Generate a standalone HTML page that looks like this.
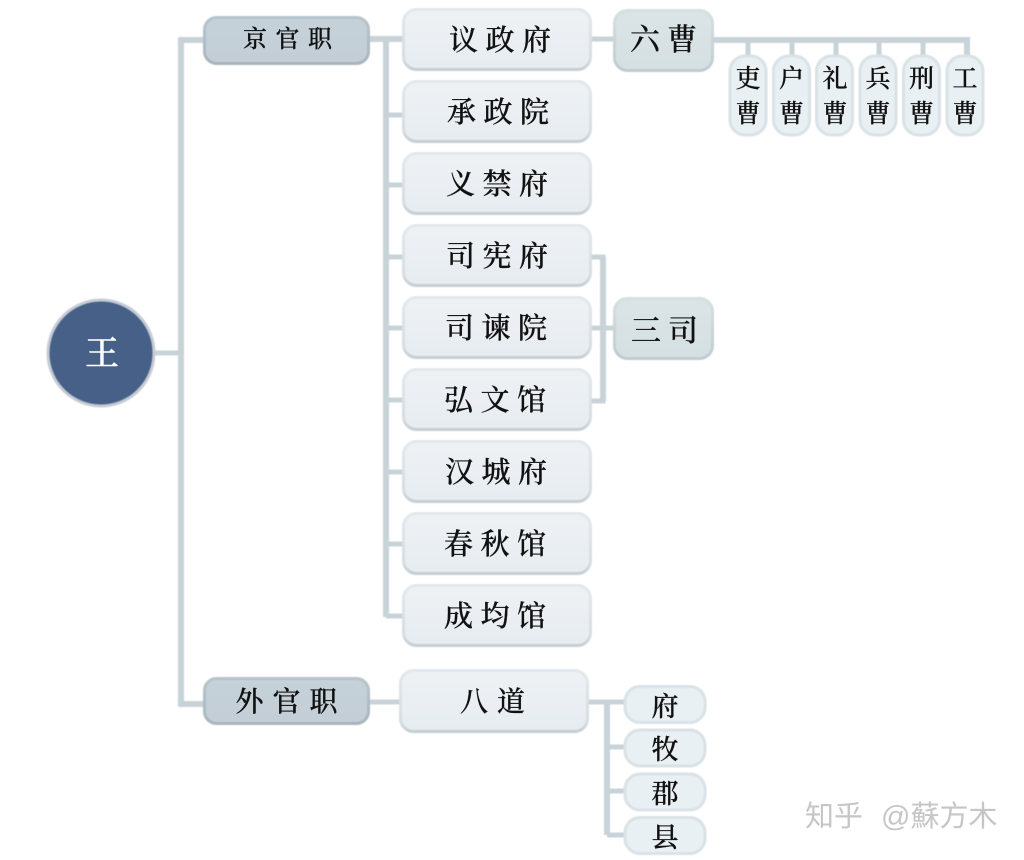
<!DOCTYPE html>
<html lang="zh">
<head>
<meta charset="utf-8">
<title>官制</title>
<style>
html,body{margin:0;padding:0;background:#fff;width:1024px;height:860px;overflow:hidden}
svg{display:block}
text{font-family:"Liberation Serif","Noto Serif CJK SC",serif;fill:#111;stroke:#111;stroke-width:.3px;font-weight:500}
.wm{font-family:"Liberation Sans","Noto Sans CJK SC",sans-serif;fill:#c6c6c6;stroke:none;font-weight:400}
.soft{filter:blur(.5px)}
</style>
</head>
<body>
<svg width="1024" height="860" viewBox="0 0 1024 860" xmlns="http://www.w3.org/2000/svg">
<defs>
<linearGradient id="g1" x1="0" y1="0" x2="0" y2="1"><stop offset="0" stop-color="#eef2f5"/><stop offset="1" stop-color="#e7ecf1"/></linearGradient>
<linearGradient id="s1" x1="0" y1="0" x2="0" y2="1"><stop offset="0" stop-color="#e3e8ec"/><stop offset=".85" stop-color="#d5dde1"/><stop offset="1" stop-color="#c3ced3"/></linearGradient>
<linearGradient id="g2" x1="0" y1="0" x2="0" y2="1"><stop offset="0" stop-color="#c6d2da"/><stop offset="1" stop-color="#c3ced6"/></linearGradient>
<linearGradient id="s2" x1="0" y1="0" x2="0" y2="1"><stop offset="0" stop-color="#b8c4cc"/><stop offset="1" stop-color="#a9b5bd"/></linearGradient>
<linearGradient id="g3" x1="0" y1="0" x2="0" y2="1"><stop offset="0" stop-color="#dbe5e7"/><stop offset="1" stop-color="#d5e0e3"/></linearGradient>
<linearGradient id="s3" x1="0" y1="0" x2="0" y2="1"><stop offset="0" stop-color="#d6dfe2"/><stop offset="1" stop-color="#bfcbcf"/></linearGradient>
</defs>

<g class="soft">
<g stroke="#c8d3d8" fill="none">
  <path stroke-width="6" d="M205 40H181V704H205"/>
  <path stroke-width="5" d="M155 353H181"/>
  <path stroke-width="6" d="M368 39H404"/>
  <path stroke-width="6" d="M386 39V617"/>
  <path stroke-width="5" d="M386 115H404M386 185H404M386 257H404M386 328H404M386 400H404M386 472H404M386 544H404M386 616H404"/>
  <path stroke-width="5" d="M590 39H615"/>
  <path stroke-width="6" d="M712 40H967V55"/>
  <path stroke-width="5" d="M748 40V56M792 40V56M836 40V56M879 40V56M923 40V56"/>
  <path stroke-width="5" d="M590 257H603V401H590"/>
  <path stroke-width="6" d="M603 257V401"/>
  <path stroke-width="5" d="M590 328H615"/>
  <path stroke-width="5" d="M368 702H401"/>
  <path stroke-width="5" d="M587 702H626"/>
  <path stroke-width="6" d="M607 702V835"/>
  <path stroke-width="5" d="M607 747H626M607 791H626M607 835H626"/>
</g>

<circle cx="101" cy="353" r="53" fill="#476087" stroke="#c5ccd6" stroke-width="3"/>

<g stroke-width="3">
  <rect x="204.500" y="17.500" width="164" height="46" rx="12" fill="url(#g2)" stroke="url(#s2)"/>
  <rect x="204.500" y="678.500" width="164" height="45" rx="12" fill="url(#g2)" stroke="url(#s2)"/>
</g>

<g fill="url(#g1)" stroke="url(#s1)" stroke-width="3">
  <rect x="403.500" y="9.500" width="187" height="60" rx="13"/>
  <rect x="403.500" y="81.500" width="187" height="60" rx="13"/>
  <rect x="403.500" y="153.500" width="187" height="60" rx="13"/>
  <rect x="403.500" y="225.500" width="187" height="60" rx="13"/>
  <rect x="403.500" y="297.500" width="187" height="60" rx="13"/>
  <rect x="403.500" y="369.500" width="187" height="60" rx="13"/>
  <rect x="403.500" y="441.500" width="187" height="60" rx="13"/>
  <rect x="403.500" y="513.500" width="187" height="60" rx="13"/>
  <rect x="403.500" y="585.500" width="187" height="60" rx="13"/>
  <rect x="400.500" y="670.500" width="187" height="61" rx="13"/>
</g>

<g fill="url(#g3)" stroke="url(#s3)" stroke-width="3">
  <rect x="614.500" y="10.500" width="98" height="60" rx="13"/>
  <rect x="614.500" y="298.500" width="98" height="60" rx="13"/>
</g>

<g fill="#e9f0f3" stroke="#d9e2e6" stroke-width="3">
  <rect x="730" y="56" width="36" height="79" rx="15"/>
  <rect x="773.500" y="56" width="36" height="79" rx="15"/>
  <rect x="816.500" y="56" width="36" height="79" rx="15"/>
  <rect x="860" y="56" width="36" height="79" rx="15"/>
  <rect x="903.500" y="56" width="36" height="79" rx="15"/>
  <rect x="947" y="56" width="36" height="79" rx="15"/>
  <rect x="625" y="686.500" width="80" height="36" rx="15"/>
  <rect x="625" y="730" width="80" height="36" rx="15"/>
  <rect x="625" y="774" width="80" height="36" rx="15"/>
  <rect x="625" y="817.500" width="80" height="36" rx="15"/>
</g>
</g>

<text x="85" y="365" font-size="34" style="fill:#fff;stroke:#fff;stroke-width:.5px">王</text>

<text x="243" y="47" font-size="24" letter-spacing="8.500">京官职</text>
<text x="235.500" y="711" font-size="28" letter-spacing="9">外官职</text>

<g font-size="29" letter-spacing="7.500">
  <text x="449" y="50">议政府</text>
  <text x="447" y="122">承政院</text>
  <text x="446" y="194">义禁府</text>
  <text x="446" y="266">司宪府</text>
  <text x="445" y="338">司谏院</text>
  <text x="444" y="410">弘文馆</text>
  <text x="445" y="482">汉城府</text>
  <text x="444" y="554">春秋馆</text>
  <text x="444" y="626">成均馆</text>
</g>
<text x="460" y="711" font-size="28" letter-spacing="9">八道</text>
<text x="630" y="50" font-size="30" letter-spacing="7">六曹</text>
<text x="631" y="341" font-size="30" letter-spacing="7">三司</text>

<g font-size="25" text-anchor="middle">
  <text x="748" y="87">吏</text><text x="748" y="122">曹</text>
  <text x="791.500" y="87">户</text><text x="791.500" y="122">曹</text>
  <text x="835" y="87">礼</text><text x="835" y="122">曹</text>
  <text x="878" y="87">兵</text><text x="878" y="122">曹</text>
  <text x="921.500" y="87">刑</text><text x="921.500" y="122">曹</text>
  <text x="965" y="87">工</text><text x="965" y="122">曹</text>
</g>

<g font-size="27" text-anchor="middle">
  <text x="665" y="716">府</text>
  <text x="665" y="759">牧</text>
  <text x="665" y="803">郡</text>
  <text x="665" y="847">县</text>
</g>

<text class="wm" x="805" y="826" font-size="29">知乎</text>
<text class="wm" x="881" y="826" font-size="29">@蘇方木</text>
</svg>
</body>
</html>
